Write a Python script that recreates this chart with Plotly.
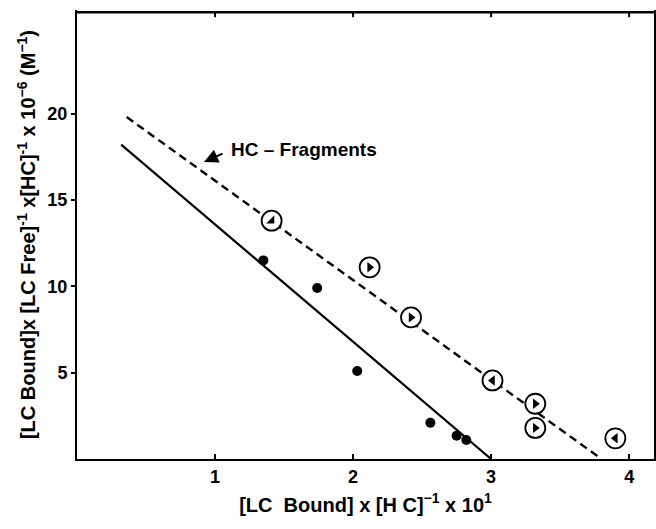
import plotly.graph_objects as go

# Intact HC (solid dots)
hc_x = [1.35, 1.74, 2.03, 2.56, 2.75, 2.82]
hc_y = [11.5, 9.9, 5.1, 2.1, 1.35, 1.1]
# Fitted line for intact HC
hc_line_x = [0.32, 3.0]
hc_line_y = [18.2, 0.0]

# HC-fragments (circled triangles)
fr_x = [1.41, 2.12, 2.42, 3.01, 3.32, 3.32, 3.90]
fr_y = [13.8, 11.1, 8.2, 4.55, 3.2, 1.8, 1.2]
fr_sym = ["triangle-se", "triangle-right", "triangle-right", "triangle-left",
          "triangle-right", "triangle-right", "triangle-left"]
fr_line_x = [0.36, 3.80]
fr_line_y = [19.8, 0.0]

x_ticks = [1, 2, 3, 4]
y_ticks = [5, 10, 15, 20]

FONT = "Liberation Sans, Arial, sans-serif"

fig = go.Figure()
fig.add_trace(go.Scatter(x=hc_line_x, y=hc_line_y, mode="lines",
                         line=dict(color="black", width=2.2), hoverinfo="skip"))
fig.add_trace(go.Scatter(x=fr_line_x, y=fr_line_y, mode="lines",
                         line=dict(color="black", width=2.4, dash="8px,5px"), hoverinfo="skip"))
fig.add_trace(go.Scatter(x=hc_x, y=hc_y, mode="markers",
                         marker=dict(symbol="circle", size=10, color="black")))
fig.add_trace(go.Scatter(x=fr_x, y=fr_y, mode="markers",
                         marker=dict(symbol="circle", size=20, color="white",
                                     line=dict(color="black", width=1.8))))
fig.add_trace(go.Scatter(x=fr_x, y=fr_y, mode="markers",
                         marker=dict(symbol=fr_sym, size=9, color="black")))

fig.add_annotation(x=0.92, y=17.2, xref="x", yref="y", text="", showarrow=True,
                   ax=20, ay=-9, arrowhead=2, arrowsize=1.4, arrowwidth=2,
                   arrowcolor="black", standoff=0)
fig.add_annotation(x=1.10, y=17.9, xref="x", yref="y", text="HC – Fragments",
                   showarrow=False, xanchor="left", yanchor="middle",
                   font=dict(family=FONT, size=19, color="black", weight="bold"))

# single top border of the frame (x-axis mirror is off so only this one shows)
fig.add_shape(type="line", xref="paper", yref="paper", x0=0, x1=1, y0=0.995, y1=0.995,
              line=dict(color="black", width=2.5), layer="above")
# small inward ticks on the top border
for xv in x_ticks:
    fig.add_shape(type="line", xref="x", yref="paper", x0=xv, x1=xv, y0=0.995, y1=0.984,
                  line=dict(color="black", width=2), layer="above")

fig.update_layout(
    width=656, height=529,
    margin=dict(l=77, r=0, t=10, b=70),
    plot_bgcolor="white", paper_bgcolor="white",
    showlegend=False,
    font=dict(family=FONT, color="black"),
)
fig.update_xaxes(range=[0, 4.18], tickvals=x_ticks, ticktext=[str(v) for v in x_ticks],
                 showgrid=False, zeroline=False, showline=True, linecolor="black",
                 linewidth=2, mirror=False, ticks="inside", ticklen=5, tickwidth=2,
                 tickcolor="black",
                 tickfont=dict(family=FONT, size=18, color="black", weight="bold"),
                 title=dict(text="[LC  Bound] x [H C]<sup>−1</sup> x 10<sup>1</sup>",
                            font=dict(family=FONT, size=20, color="black", weight="bold"),
                            standoff=12))
fig.update_yaxes(range=[0, 26.0], tickvals=y_ticks, ticktext=[str(v) for v in y_ticks],
                 showgrid=False, zeroline=False, showline=True, linecolor="black",
                 linewidth=2, mirror=True, ticks="outside", ticklen=4, tickwidth=2,
                 tickcolor="black",
                 tickfont=dict(family=FONT, size=18, color="black", weight="bold"),
                 title=dict(text="[LC Bound]x [LC Free]<sup>-1</sup> x[HC]<sup>-1</sup> x 10<sup>−6</sup> (M<sup>−1</sup>)",
                            font=dict(family=FONT, size=20, color="black", weight="bold"),
                            standoff=6))

fig.write_html("out.html", config={"displayModeBar": False})
